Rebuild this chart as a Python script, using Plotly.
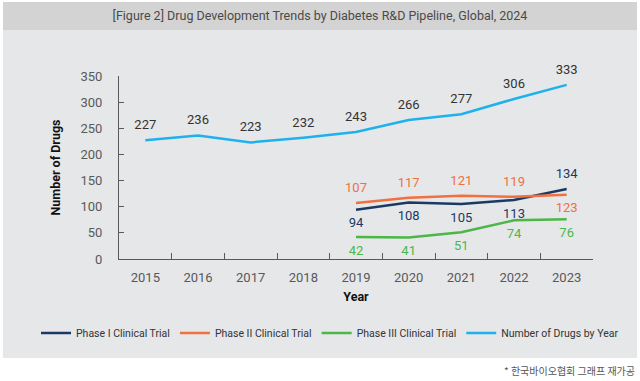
import plotly.graph_objects as go

years = ["2015", "2016", "2017", "2018", "2019", "2020", "2021", "2022", "2023"]
total_drugs = [227, 236, 223, 232, 243, 266, 277, 306, 333]
phase1 = [None, None, None, None, 94, 108, 105, 113, 134]
phase2 = [None, None, None, None, 107, 117, 121, 119, 123]
phase3 = [None, None, None, None, 42, 41, 51, 74, 76]

pos1 = ["bottom center"] * 8 + ["top center"]
pos2 = ["top center"] * 8 + ["bottom center"]
pos3 = ["bottom center"] * 9
posT = ["top center"] * 9

C1 = "#1b3a63"
C2 = "#f0703f"
C3 = "#4cb748"
CT = "#1fb1ee"
PANEL = "#e6e7e9"
HEADER = "#d3d3d3"

L, R, T, B = 119, 47, 76, 122
W, H = 640, 381
pw, ph = W - L - R, H - T - B


def px(x):
    return (x - L) / pw


def py(y):
    return (H - B - y) / ph


def fmt(vals):
    return ["" if v is None else str(v) for v in vals]


fig = go.Figure()
series = [
    ("Phase I Clinical Trial", phase1, C1, pos1, C1),
    ("Phase II Clinical Trial", phase2, C2, pos2, C2),
    ("Phase III Clinical Trial", phase3, C3, pos3, C3),
    ("Number of Drugs by Year", total_drugs, CT, posT, "#333333"),
]
for name, vals, col, pos, tcol in series:
    fig.add_trace(go.Scatter(
        x=years, y=vals, name=name, mode="lines",
        line=dict(color=col, width=2.5), hoverinfo="skip",
    ))
for name, vals, col, pos, tcol in series:
    fig.add_trace(go.Scatter(
        x=years, y=vals, name=name + " labels", mode="markers+text",
        marker=dict(size=11, opacity=0, color=col),
        text=fmt(vals), textposition=pos,
        textfont=dict(family="Roboto", size=13, color=tcol),
        cliponaxis=False, hoverinfo="skip", showlegend=False,
    ))

shapes = [
    dict(type="rect", xref="paper", yref="paper", x0=px(3), x1=px(637), y0=py(358), y1=py(30),
         fillcolor=PANEL, line=dict(width=0), layer="below"),
    dict(type="rect", xref="paper", yref="paper", x0=px(3), x1=px(637), y0=py(30), y1=py(2),
         fillcolor=HEADER, line=dict(width=0), layer="below"),
]

fig.update_layout(
    width=W, height=H,
    margin=dict(l=L, r=R, t=T, b=B, autoexpand=False),
    paper_bgcolor="white",
    plot_bgcolor="rgba(0,0,0,0)",
    shapes=shapes,
    title=dict(text="[Figure 2] Drug Development Trends by Diabetes R&D Pipeline, Global, 2024",
               x=0.5, xanchor="center", y=1 - 16 / H, yanchor="middle",
               font=dict(family="Roboto", size=12.5, color="#4a4a4a")),
    showlegend=True,
    legend=dict(orientation="h", xref="paper", yref="paper",
                x=px(36), xanchor="left", y=py(333), yanchor="middle",
                font=dict(family="Roboto", size=10.5, color="#333333"),
                bgcolor="rgba(0,0,0,0)", tracegroupgap=0),
    annotations=[
        dict(text="* 한국바이오협회 그래프 재가공", xref="paper", yref="paper",
             x=px(637), xanchor="right", y=py(370), yanchor="middle", showarrow=False,
             font=dict(family="Noto Sans CJK KR", size=10, color="#555555")),
    ],
    xaxis=dict(
        type="category", range=[-0.5, 8.5],
        showline=True, linecolor="#595959", linewidth=1.2,
        ticks="inside", tickson="boundaries", ticklen=6, tickcolor="#595959",
        showgrid=False, zeroline=False,
        tickfont=dict(family="Roboto", size=13, color="#595959"),
        ticklabelstandoff=6,
        title=dict(text="<b>Year</b>", standoff=8,
                   font=dict(family="Roboto", size=12.5, color="#111111")),
    ),
    yaxis=dict(
        range=[0, 350], tickvals=[0, 50, 100, 150, 200, 250, 300, 350],
        showline=True, linecolor="#595959", linewidth=1.2,
        ticks="inside", ticklen=5, tickcolor="#595959",
        showgrid=False, zeroline=False,
        tickfont=dict(family="Roboto", size=13, color="#595959"),
        ticklabelstandoff=13,
        title=dict(text="<b>Number of Drugs</b>", standoff=17,
                   font=dict(family="Roboto", size=12.5, color="#111111")),
    ),
)

fig.write_html(
    "out.html",
    config={"displayModeBar": False},
    post_script="document.body.style.margin='0';document.body.style.overflow='hidden';",
)
